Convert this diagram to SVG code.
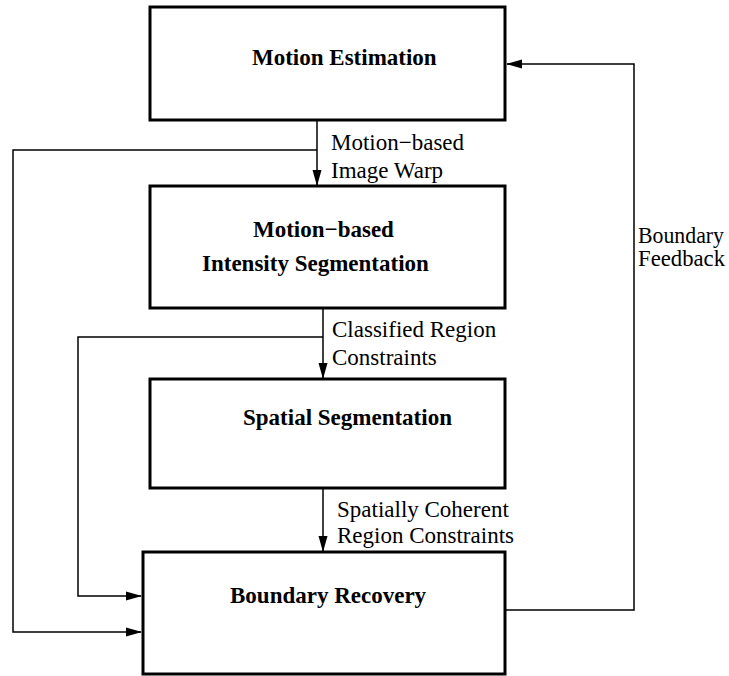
<svg xmlns="http://www.w3.org/2000/svg" width="729" height="676" viewBox="0 0 729 676">
  <style>
    .box { fill: #fff; stroke: #000; stroke-width: 3; }
    .title { font-family: "Liberation Serif", "Times New Roman", serif; font-weight: bold; font-size: 23px; fill: #000; }
    .label { font-family: "Liberation Serif", "Times New Roman", serif; font-size: 23px; fill: #000; }
    .wire { fill: none; stroke: #000; stroke-width: 1.5; }
  </style>
  <defs>
    <marker id="arrow" markerUnits="userSpaceOnUse" markerWidth="16" markerHeight="10" refX="15" refY="5" orient="auto">
      <path d="M0,0.5 L16,5 L0,9.5 z" fill="#000"/>
    </marker>
  </defs>

  <rect width="729" height="676" fill="#fff"/>

  <g id="connectors">
    <path class="wire" d="M317,121 V185" marker-end="url(#arrow)"/>
    <path class="wire" d="M317,150 H13 V632 H141" marker-end="url(#arrow)"/>
    <path class="wire" d="M323,309 V378" marker-end="url(#arrow)"/>
    <path class="wire" d="M323,337 H78 V596 H141" marker-end="url(#arrow)"/>
    <path class="wire" d="M323,489 V551" marker-end="url(#arrow)"/>
    <path class="wire" d="M506,610 H634 V64 H507" marker-end="url(#arrow)"/>
    <text class="label" x="331" y="150">Motion−based</text>
    <text class="label" x="331" y="178">Image Warp</text>
    <text class="label" x="332" y="337">Classified Region</text>
    <text class="label" x="332" y="365">Constraints</text>
    <text class="label" x="337" y="517">Spatially Coherent</text>
    <text class="label" x="337" y="543">Region Constraints</text>
    <text class="label" x="638" y="243" textLength="86" lengthAdjust="spacingAndGlyphs">Boundary</text>
    <text class="label" x="638" y="266" textLength="87" lengthAdjust="spacingAndGlyphs">Feedback</text>
  </g>

  <g id="motion-estimation">
    <rect class="box" x="150" y="7" width="355" height="113"/>
    <text class="title" x="252" y="65">Motion Estimation</text>
  </g>

  <g id="intensity-segmentation">
    <rect class="box" x="150" y="186" width="355" height="122"/>
    <text class="title" x="253" y="237">Motion−based</text>
    <text class="title" x="202" y="271">Intensity Segmentation</text>
  </g>

  <g id="spatial-segmentation">
    <rect class="box" x="150" y="379" width="355" height="109"/>
    <text class="title" x="243" y="425">Spatial Segmentation</text>
  </g>

  <g id="boundary-recovery">
    <rect class="box" x="143" y="552" width="362" height="122"/>
    <text class="title" x="230" y="603">Boundary Recovery</text>
  </g>
</svg>
